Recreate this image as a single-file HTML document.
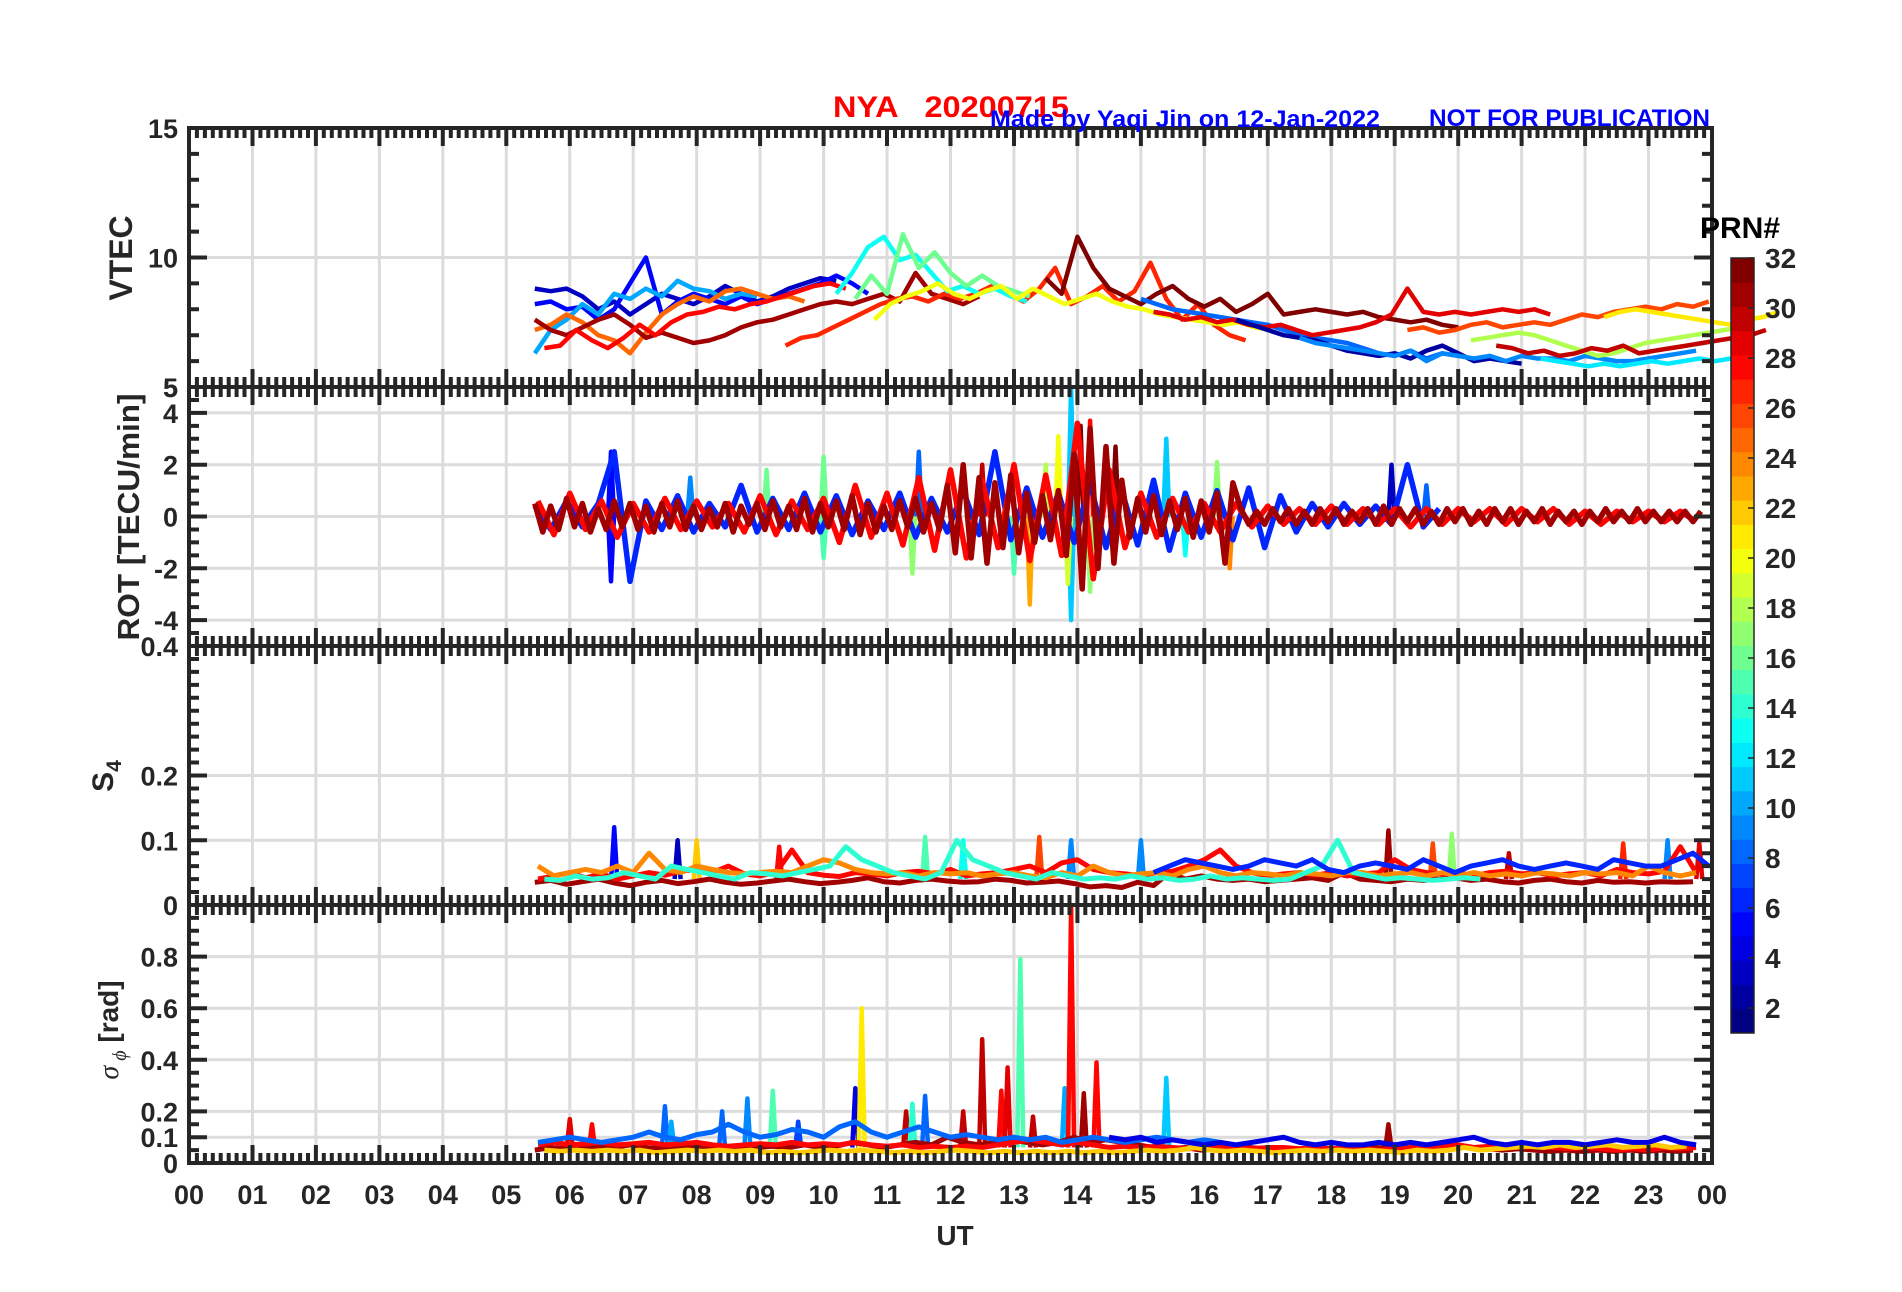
<!DOCTYPE html>
<html><head><meta charset="utf-8"><title>NYA 20200715</title>
<style>
html,body{margin:0;padding:0;background:#fff;}
svg{display:block;font-family:"Liberation Sans",Arial,sans-serif;}
</style></head>
<body>
<svg id="chart" width="1902" height="1292" viewBox="0 0 1902 1292" xmlns="http://www.w3.org/2000/svg">
<rect x="0" y="0" width="1902" height="1292" fill="#fff"/>
<g id="grid"></g>
<g id="series"></g>
<g id="axes"></g>
<g id="cbar"></g>
<text x="833" y="117" font-size="30" font-weight="bold" fill="#ff0000" textLength="236" lengthAdjust="spacingAndGlyphs" xml:space="preserve">NYA   20200715</text>
<text x="990" y="127" font-size="24" font-weight="bold" fill="#0000ff" textLength="390" lengthAdjust="spacingAndGlyphs">Made by Yaqi Jin on 12-Jan-2022</text>
<text x="1429" y="126" font-size="24" font-weight="bold" fill="#0000ff" textLength="281" lengthAdjust="spacingAndGlyphs">NOT FOR PUBLICATION</text>
<text transform="translate(132,258) rotate(-90)" text-anchor="middle" font-size="32" font-weight="bold" fill="#262626">VTEC</text>
<text transform="translate(139,517) rotate(-90)" text-anchor="middle" font-size="31" font-weight="bold" fill="#262626" textLength="247" lengthAdjust="spacingAndGlyphs">ROT [TECU/min]</text>
<text transform="translate(113,776) rotate(-90)" text-anchor="middle" font-size="30" font-weight="bold" fill="#262626">S<tspan font-size="21" dy="8">4</tspan></text>
<text transform="translate(118,1030) rotate(-90)" text-anchor="middle" font-size="28" font-weight="bold" fill="#262626"><tspan font-family="Liberation Serif,serif" font-style="italic" font-weight="normal">σ</tspan><tspan font-family="Liberation Serif,serif" font-style="italic" font-weight="normal" font-size="20" dy="8"> ϕ</tspan><tspan dy="-8"> [rad]</tspan></text>
<text x="955" y="1245" text-anchor="middle" font-size="28" font-weight="bold" fill="#262626">UT</text>
<text x="1700" y="238" font-size="30" font-weight="bold" fill="#000">PRN#</text>
</svg>
<script>
// ---------- data ----------
const hourTicks = ["00","01","02","03","04","05","06","07","08","09","10","11","12","13","14","15","16","17","18","19","20","21","22","23","00"];
const vtecTicks = [15,10,5];
const rotTicks = [5,4,2,0,-2,-4];
const s4Ticks = [0.4,0.2,0.1,0];
const sigTicks = [0.8,0.6,0.4,0.2,0.1,0];
const cbarTicks = [32,30,28,26,24,22,20,18,16,14,12,10,8,6,4,2];

const vtecMeta = [[3,5.45,0.25],[5,5.45,0.25],[10,5.45,0.25],[25,5.45,0.25],[31,5.45,0.25],[28,5.6,0.25],[27,9.4,0.25],[13,10.2,0.25],[16,10.5,0.25],[20,10.8,0.25],[32,13.5,0.25],[8,15.0,0.25],[29,15.2,0.25],[2,16.5,0.25],[9,17.5,0.25],[18,20.2,0.25],[26,19.2,0.25],[30,20.6,0.25],[12,21.3,0.25],[21,22.3,0.25]];
const vtec3 = [8.8,8.7,8.8,8.5,8.0,8.3,7.8,8.2,8.6,8.4,8.2,8.5,8.9,8.6,8.3,8.5,8.8,9.0,9.2,9.1];
const vtec5 = [8.2,8.3,8.0,8.1,7.6,8.0,9.0,10.0,7.8,8.3,8.6,8.4,8.2,8.5,8.2,8.4,8.6,8.8,9.0,9.3,9.0,8.6];
const vtec10 = [6.3,7.2,7.6,8.2,7.8,8.6,8.4,8.8,8.5,9.1,8.8,8.7,8.4,8.6,8.5];
const vtec25 = [7.2,7.4,7.8,7.5,7.0,6.8,6.3,7.1,7.8,8.2,8.5,8.3,8.7,8.8,8.6,8.4,8.5,8.3];
const vtec31 = [7.6,7.2,7.0,7.3,7.6,7.8,7.4,6.9,7.1,6.9,6.7,6.8,7.0,7.3,7.5,7.6,7.8,8.0,8.2,8.3,8.2,8.4,8.6,8.3,9.4,8.6,8.4,8.2,8.5];
const vtec28 = [6.5,6.6,7.2,6.8,6.5,6.9,7.4,7.0,7.5,7.8,7.9,8.1,8.0,8.2,8.3,8.5,8.7,8.9,9.0,8.8];
const vtec27 = [6.6,6.9,7.0,7.3,7.6,7.9,8.2,8.4,8.5,8.3,8.6,8.4,8.6,8.9,8.6,8.3,8.8,9.6,8.2,8.5,8.9,8.3,8.7,9.8,8.4,7.6,8.2,7.4,7.0,6.8];
const vtec13 = [8.6,9.4,10.4,10.8,9.9,10.1,9.4,8.7,8.9,8.6,8.8,8.5,8.3];
const vtec16 = [8.4,9.3,8.6,10.9,9.6,10.2,9.4,8.9,9.3,8.9,8.7,8.5];
const vtec20 = [7.6,8.2,8.5,8.7,9.0,8.6,8.4,8.7,8.9,8.4,8.8,8.5,8.2,8.4,8.6,8.3,8.1,8.0,7.8,7.7,7.6,7.5,7.4,7.5,7.3,7.2];
const vtec32 = [9.2,8.6,10.8,9.6,8.8,8.5,8.2,8.6,8.9,8.4,8.1,8.4,7.9,8.2,8.6,7.8,7.9,8.0,7.9,7.8,7.9,7.7,7.6,7.5,7.6,7.4,7.3];
const vtec8 = [8.4,8.2,8.0,7.9,7.8,7.7,7.6,7.5,7.4,7.2,7.0,6.9,6.8,6.7,6.5,6.3,6.2,6.4,6.1,6.3,6.2];
const vtec29 = [7.9,7.8,7.6,7.7,7.5,7.6,7.4,7.3,7.4,7.2,7.0,7.1,7.2,7.3,7.5,7.8,8.8,7.9,7.8,7.9,7.8,7.9,8.0,7.9,8.0,7.8];
const vtec2 = [7.6,7.4,7.2,7.0,6.9,6.8,6.6,6.4,6.3,6.2,6.3,6.1,6.4,6.6,6.3,6.0,6.1,6.0,5.9];
const vtec9 = [6.9,6.7,6.6,6.5,6.4,6.3,6.2,6.4,6.0,6.3,6.2,6.1,6.2,6.0,6.2,6.1,6.1,6.0,6.2,6.1,6.0,6.0,6.1,6.2,6.3,6.4];
const vtec18 = [6.8,6.9,7.0,7.1,7.0,6.8,6.6,6.4,6.2,6.3,6.5,6.7,6.8,6.9,7.0,7.1,7.2,7.3];
const vtec26 = [7.2,7.3,7.1,7.2,7.4,7.5,7.3,7.4,7.5,7.4,7.6,7.8,7.7,7.9,8.0,8.1,8.0,8.2,8.1,8.3];
const vtec30 = [6.6,6.5,6.3,6.4,6.2,6.3,6.5,6.4,6.6,6.3,6.4,6.5,6.6,6.7,6.8,6.9,7.0,7.2];
const vtec12 = [6.1,6.0,5.9,5.8,5.9,5.8,5.9,6.0,5.9,6.0,6.1,6.0,6.1,6.2];
const vtec21 = [7.7,7.9,8.0,7.9,7.8,7.7,7.6,7.5,7.4,7.6,7.7,7.9];
const vtecSeries = [vtec3,vtec5,vtec10,vtec25,vtec31,vtec28,vtec27,vtec13,vtec16,vtec20,vtec32,vtec8,vtec29,vtec2,vtec9,vtec18,vtec26,vtec30,vtec12,vtec21];

const rotMeta = [[6,5.45,0.25],[28,5.5,0.25],[31,5.45,0.125]];
const rot6 = [0.4,-0.5,0.6,-0.4,0.5,2.5,-2.5,0.6,-0.5,0.8,-0.6,0.5,-0.4,1.2,-0.6,0.7,-0.5,0.9,-0.6,0.8,-0.7,0.6,-0.5,0.9,-0.8,0.7,-0.6,1.0,-0.7,2.5,-0.9,1.1,-0.8,0.9,-1.0,1.3,-1.2,1.0,-1.1,1.4,-1.3,0.9,-0.8,1.0,-0.9,1.1,-1.2,0.8,-0.6,0.5,-0.4,0.5,-0.3,0.4,-0.3,2.0,-0.4,0.3];
const rot28 = [0.6,-0.7,0.9,-0.5,0.6,-0.8,0.5,-0.6,0.7,-0.5,0.6,-0.4,0.5,-0.6,0.8,-0.7,0.6,-0.5,0.7,-1.0,1.2,-0.8,0.9,-1.1,1.5,-1.3,1.8,-1.6,1.4,-1.2,2.0,-1.7,1.6,-1.5,3.6,-2.4,1.8,-1.2,0.9,-0.8,0.7,-0.6,0.5,-0.6,0.5,-0.4,0.4,-0.3,0.3,-0.3,0.4,-0.3,0.3,-0.3,0.3,-0.4,0.3,-0.3,0.3,-0.2,0.3,-0.3,0.3,-0.2,0.3,-0.3,0.2,-0.3,0.2,-0.2,0.2,-0.2,0.2,-0.2];
const rot31 = [0.5,-0.6,0.4,-0.5,0.7,-0.4,0.5,-0.6,0.3,-0.5,0.6,-0.4,0.5,-0.5,0.4,-0.6,0.5,-0.4,0.6,-0.5,0.4,-0.5,0.3,-0.4,0.5,-0.6,0.4,-0.3,0.5,-0.5,0.6,-0.4,0.4,-0.5,0.7,-0.6,0.5,-0.4,0.6,-0.5,0.8,-0.7,0.5,-0.6,0.4,-0.5,0.6,-0.4,0.7,-0.6,0.5,-0.5,
 1.2,-1.4,2.0,-1.6,1.5,-1.8,1.3,-1.2,1.6,-1.4,
 0.9,-1.0,0.8,-0.9,1.0,
 -1.5,2.4,-2.8,3.4,-2.0,2.7,-1.8,1.4,
 -0.8,0.7,-0.6,0.8,-0.7,0.6,-0.5,0.7,-0.8,0.6,-0.6,0.9,-1.8,1.3,
 0.3,-0.3,0.2,-0.3,0.3,-0.2,0.3,-0.3,0.2,-0.3,0.3,-0.2,0.3,-0.3,0.2,-0.2,0.3,-0.3,0.4,-0.3,0.3,-0.2,0.3,-0.3,0.2,-0.3,0.3,-0.2,0.3,-0.3,0.2,-0.3,0.3,-0.2,0.3,-0.3,0.2,-0.2,0.3,-0.3,0.2,-0.2,0.2,-0.3,0.2,-0.2,0.3,-0.2,0.2,-0.2,0.3,-0.2,0.2,-0.2,0.2,-0.2,0.2,-0.2,0.2];
const rotSeries = [rot6,rot28,rot31];
const rotSpikeHour = [6.65,6.65,7.9,9.1,10.0,10.0,11.5,11.4,12.5,13.0,13.25,13.5,13.9,13.9,13.7,13.85,14.05,14.2,14.2,14.6,15.4,15.7,16.2,16.4,18.95,19.5];
const rotSpikeVal = [2.5,-2.5,1.5,1.8,2.3,-1.6,2.5,-2.2,2.0,-2.2,-3.4,2.0,5.0,-4.0,3.1,-2.6,3.5,3.7,-2.9,2.7,3.0,-1.5,2.1,-2.0,2.0,1.2];
const rotSpikePrn = [5,5,9,16,16,15,8,17,30,15,23,18,11,11,20,19,32,28,17,32,11,13,17,24,3,8];

const s4Meta = [[31,5.45,0.25],[28,5.5,0.25],[24,5.5,0.25],[14,5.6,0.25],[6,15.2,0.25]];
const s431 = [0.035,0.038,0.032,0.036,0.04,0.034,0.03,0.035,0.038,0.033,0.036,0.04,0.035,0.032,0.034,0.037,0.04,0.036,0.033,0.035,0.038,0.042,0.036,0.034,0.038,0.04,0.037,0.035,0.036,0.04,0.038,0.034,0.035,0.037,0.033,0.028,0.03,0.027,0.035,0.03,0.05,0.04,0.045,0.04,0.038,0.04,0.036,0.038,0.04,0.042,0.038,0.05,0.04,0.038,0.036,0.04,0.038,0.04,0.042,0.038,0.04,0.036,0.034,0.038,0.04,0.036,0.034,0.038,0.035,0.036,0.034,0.036,0.035,0.036];
const s428 = [0.04,0.045,0.05,0.042,0.048,0.04,0.045,0.05,0.046,0.052,0.055,0.05,0.06,0.048,0.045,0.05,0.085,0.05,0.046,0.044,0.05,0.048,0.045,0.05,0.052,0.048,0.055,0.045,0.048,0.05,0.055,0.06,0.05,0.065,0.07,0.055,0.05,0.048,0.045,0.05,0.052,0.06,0.07,0.085,0.06,0.05,0.045,0.048,0.05,0.046,0.05,0.045,0.048,0.05,0.07,0.055,0.05,0.048,0.05,0.045,0.05,0.052,0.048,0.05,0.045,0.048,0.05,0.045,0.055,0.05,0.048,0.052,0.09,0.05];
const s424 = [0.06,0.045,0.05,0.055,0.05,0.06,0.05,0.08,0.055,0.05,0.06,0.055,0.05,0.048,0.05,0.052,0.05,0.06,0.07,0.065,0.055,0.05,0.048,0.05,0.045,0.05,0.048,0.05,0.045,0.048,0.05,0.045,0.042,0.05,0.045,0.06,0.05,0.045,0.048,0.05,0.045,0.055,0.06,0.05,0.045,0.05,0.048,0.045,0.05,0.048,0.045,0.05,0.05,0.045,0.048,0.05,0.045,0.05,0.045,0.05,0.045,0.048,0.045,0.05,0.048,0.045,0.05,0.048,0.05,0.045,0.06,0.05,0.045,0.05];
const s414 = [0.04,0.038,0.045,0.04,0.042,0.05,0.045,0.04,0.06,0.055,0.05,0.045,0.04,0.05,0.048,0.045,0.05,0.055,0.06,0.09,0.07,0.06,0.05,0.045,0.04,0.05,0.1,0.07,0.06,0.05,0.045,0.04,0.05,0.045,0.04,0.042,0.04,0.045,0.04,0.042,0.038,0.04,0.045,0.04,0.042,0.04,0.038,0.04,0.05,0.06,0.1,0.05,0.045,0.04,0.042,0.04,0.038,0.04,0.042,0.04];
const s46 = [0.05,0.06,0.07,0.065,0.06,0.055,0.06,0.07,0.065,0.06,0.07,0.055,0.05,0.06,0.065,0.06,0.055,0.07,0.06,0.05,0.06,0.065,0.07,0.06,0.055,0.06,0.065,0.06,0.055,0.07,0.065,0.06,0.06,0.07,0.08,0.06];
const s4Series = [s431,s428,s424,s414,s46];
const s4SpikeHour = [6.7,7.7,8.0,9.3,11.6,12.2,13.4,13.9,15.0,18.9,19.6,19.9,20.8,22.6,23.3,23.8];
const s4SpikeVal = [0.12,0.1,0.1,0.09,0.105,0.1,0.105,0.1,0.1,0.115,0.095,0.11,0.08,0.095,0.1,0.095];
const s4SpikePrn = [5,3,22,28,15,13,26,9,9,31,26,17,30,27,9,29];

const sigMeta = [[31,5.45,0.25],[28,5.5,0.25],[22,5.6,0.25],[8,5.5,0.25],[4,14.5,0.25]];
const sig31 = [0.05,0.06,0.055,0.06,0.065,0.06,0.07,0.06,0.055,0.06,0.065,0.06,0.055,0.06,0.06,0.065,0.06,0.07,0.06,0.065,0.08,0.07,0.06,0.07,0.08,0.07,0.1,0.08,0.07,0.08,0.09,0.08,0.07,0.08,0.1,0.08,0.09,0.08,0.07,0.06,0.055,0.06,0.05,0.055,0.05,0.06,0.055,0.06,0.05,0.055,0.05,0.06,0.055,0.06,0.055,0.05,0.055,0.06,0.07,0.06,0.055,0.05,0.055,0.05,0.045,0.05,0.045,0.05,0.045,0.05,0.045,0.05,0.045,0.05];
const sig28 = [0.07,0.08,0.07,0.075,0.08,0.07,0.075,0.08,0.07,0.075,0.08,0.07,0.065,0.07,0.075,0.07,0.08,0.07,0.075,0.07,0.08,0.07,0.065,0.07,0.06,0.065,0.06,0.065,0.06,0.07,0.08,0.09,0.08,0.07,0.08,0.07,0.06,0.065,0.06,0.065,0.06,0.055,0.06,0.065,0.06,0.055,0.06,0.06,0.055,0.06,0.055,0.06,0.055,0.05,0.055,0.06,0.065,0.06,0.07,0.06,0.065,0.07,0.06,0.065,0.06,0.055,0.06,0.055,0.05,0.055,0.05,0.06,0.055,0.06];
const sig22 = [0.05,0.045,0.05,0.045,0.05,0.045,0.05,0.04,0.045,0.05,0.045,0.05,0.045,0.05,0.04,0.045,0.04,0.045,0.05,0.045,0.05,0.045,0.04,0.045,0.04,0.045,0.05,0.045,0.04,0.045,0.04,0.045,0.04,0.045,0.04,0.045,0.04,0.045,0.05,0.045,0.05,0.06,0.05,0.045,0.05,0.045,0.04,0.045,0.05,0.045,0.05,0.045,0.05,0.045,0.04,0.05,0.045,0.05,0.06,0.05,0.055,0.06,0.065,0.06,0.07,0.06,0.065,0.07,0.06,0.065,0.07,0.06,0.065];
const sig8 = [0.08,0.09,0.1,0.09,0.08,0.09,0.1,0.12,0.1,0.09,0.11,0.12,0.15,0.12,0.1,0.11,0.13,0.12,0.1,0.14,0.16,0.12,0.1,0.12,0.14,0.12,0.1,0.11,0.1,0.09,0.1,0.09,0.1,0.08,0.09,0.1,0.09,0.08,0.09,0.1,0.09,0.08,0.09,0.08];
const sig4 = [0.1,0.09,0.1,0.08,0.09,0.08,0.07,0.08,0.07,0.08,0.09,0.1,0.08,0.07,0.08,0.07,0.07,0.08,0.07,0.08,0.07,0.08,0.09,0.1,0.08,0.07,0.08,0.07,0.08,0.08,0.07,0.08,0.09,0.08,0.08,0.1,0.08,0.07];
const sigSeries = [sig31,sig28,sig22,sig8,sig4];
const sigSpikeHour = [6.0,6.35,7.5,7.6,8.4,8.8,9.2,9.6,10.5,10.6,11.3,11.4,11.6,12.2,12.5,12.8,12.9,13.1,13.3,13.8,13.9,14.1,14.3,15.4,18.9];
const sigSpikeVal = [0.17,0.15,0.22,0.16,0.2,0.25,0.28,0.16,0.29,0.6,0.2,0.23,0.26,0.2,0.48,0.28,0.37,0.79,0.18,0.29,1.0,0.27,0.39,0.33,0.15];
const sigSpikePrn = [29,28,8,10,8,9,15,7,4,21,30,14,8,30,30,28,29,15,30,10,28,31,28,11,31];

// ---------- geometry ----------
const X0 = 189, X1 = 1712;
const panels = [
  {top:128, bot:387, min:5, max:15},
  {top:387, bot:646, min:-5, max:5},
  {top:646, bot:905, min:0, max:0.4},
  {top:905, bot:1163, min:0, max:1}
];
const xOf = h => X0 + (X1 - X0) * h / 24;
const yOf = (p, v) => { const P = panels[p]; const c = Math.max(P.min, Math.min(P.max, v)); return P.bot - (c - P.min) / (P.max - P.min) * (P.bot - P.top); };
function jet(prn) {
  const f = (prn - 1) / 31;
  const cl = v => Math.max(0, Math.min(1, v));
  const r = cl(1.5 - Math.abs(4 * f - 3)), g = cl(1.5 - Math.abs(4 * f - 2)), b = cl(1.5 - Math.abs(4 * f - 1));
  return `rgb(${Math.round(r * 255)},${Math.round(g * 255)},${Math.round(b * 255)})`;
}
const NS = "http://www.w3.org/2000/svg";
function mk(tag, attrs, parent) {
  const e = document.createElementNS(NS, tag);
  for (const k in attrs) e.setAttribute(k, attrs[k]);
  parent.appendChild(e);
  return e;
}
const gGrid = document.getElementById('grid');
const gSer = document.getElementById('series');
const gAx = document.getElementById('axes');
const gCb = document.getElementById('cbar');
const tickSets = [vtecTicks, rotTicks, s4Ticks, sigTicks];
const minorSteps = [1, 0.5, 0.02, 0.05];

panels.forEach((P, p) => {
  for (let h = 1; h < 24; h++) {
    const l = mk('line', {x1: xOf(h), x2: xOf(h), y1: P.top, y2: P.bot, stroke: '#dcdcdc', 'stroke-width': 3}, gGrid);
    
    
  }
  tickSets[p].forEach(v => {
    if (v === P.min || v === P.max) return;
    const l = mk('line', {x1: X0, x2: X1, y1: yOf(p, v), y2: yOf(p, v), stroke: '#dcdcdc', 'stroke-width': 3}, gGrid);
    
    
  });
});

function drawLine(p, meta, vals, name, width) {
  const pts = vals.map((v, i) => `${xOf(meta[1] + i * meta[2]).toFixed(1)},${yOf(p, v).toFixed(1)}`).join(' ');
  const pl = mk('polyline', {points: pts, fill: 'none', stroke: jet(meta[0]), 'stroke-width': width, 'stroke-linejoin': 'round'}, gSer);
  
  
}
function drawSpikes(p, hours, vals, prns, base, name) {
  hours.forEach((h, i) => {
    const x = xOf(h);
    const d = `M${(x - 3).toFixed(1)},${yOf(p, base).toFixed(1)} L${x.toFixed(1)},${yOf(p, vals[i]).toFixed(1)} L${(x + 3).toFixed(1)},${yOf(p, base).toFixed(1)}`;
    const s = mk('path', {d: d, fill: 'none', stroke: jet(prns[i]), 'stroke-width': 4.5, 'stroke-linejoin': 'round'}, gSer);
    
    
  });
}
vtecSeries.forEach((vals, i) => drawLine(0, vtecMeta[i], vals, 'vtec-trace-prn' + vtecMeta[i][0], 4.5));
drawSpikes(1, rotSpikeHour, rotSpikeVal, rotSpikePrn, 0, 'rot-spike');
rotSeries.forEach((vals, i) => drawLine(1, rotMeta[i], vals, 'rot-trace-prn' + rotMeta[i][0], 5.5));
drawSpikes(2, s4SpikeHour, s4SpikeVal, s4SpikePrn, 0.04, 's4-spike');
s4Series.forEach((vals, i) => drawLine(2, s4Meta[i], vals, 's4-trace-prn' + s4Meta[i][0], 5));
drawSpikes(3, sigSpikeHour, sigSpikeVal, sigSpikePrn, 0.06, 'sigma-phi-spike');
sigSeries.forEach((vals, i) => drawLine(3, sigMeta[i], vals, 'sigma-phi-trace-prn' + sigMeta[i][0], 5));

const AX = '#262626';
panels.forEach((P, p) => {
  const box = mk('rect', {x: X0, y: P.top, width: X1 - X0, height: P.bot - P.top, fill: 'none', stroke: AX, 'stroke-width': 4}, gAx);
  
  
  let d = '';
  for (let k = 0; k <= 24 * 8; k++) {
    const x = xOf(k / 8);
    const L = (k % 8 === 0) ? 18 : 10;
    d += `M${x.toFixed(1)},${P.top}v${L}M${x.toFixed(1)},${P.bot}v${-L}`;
  }
  const st = minorSteps[p];
  const n = Math.round((P.max - P.min) / st);
  for (let k = 0; k <= n; k++) {
    const v = P.min + k * st;
    const y = yOf(p, v);
    const major = tickSets[p].some(t => Math.abs(t - v) < 1e-9);
    const L = major ? 18 : 10;
    d += `M${X0},${y.toFixed(1)}h${L}M${X1},${y.toFixed(1)}h${-L}`;
  }
  const tk = mk('path', {d: d, stroke: AX, 'stroke-width': 4, fill: 'none'}, gAx);
  
  
  tickSets[p].forEach(v => {
    const t = mk('text', {x: 178, y: yOf(p, v) + 10, 'text-anchor': 'end', 'font-size': 27, 'font-weight': 'bold', fill: AX}, gAx);
    t.textContent = String(v);
    
    
  });
});
hourTicks.forEach((lab, i) => {
  const t = mk('text', {x: xOf(i), y: 1204, 'text-anchor': 'middle', 'font-size': 27, 'font-weight': 'bold', fill: AX}, gAx);
  t.textContent = lab;
  
  
});

const CB = {x: 1731, w: 23, top: 258, bot: 1033, min: 1, max: 32};
const cbY = v => CB.bot - (v - CB.min) / (CB.max - CB.min) * (CB.bot - CB.top);
for (let k = 1; k <= 32; k++) {
  const y0 = CB.bot - (k - 1) * (CB.bot - CB.top) / 32;
  const y1 = CB.bot - k * (CB.bot - CB.top) / 32;
  const r = mk('rect', {x: CB.x, y: y1, width: CB.w, height: y0 - y1 + 0.5, fill: jet(k)}, gCb);
  
  
}
const cbf = mk('rect', {x: CB.x, y: CB.top, width: CB.w, height: CB.bot - CB.top, fill: 'none', stroke: AX, 'stroke-width': 1.5}, gCb);


cbarTicks.forEach(v => {
  const y = cbY(v);
  const l = mk('line', {x1: CB.x + CB.w - 6, x2: CB.x + CB.w, y1: y, y2: y, stroke: AX, 'stroke-width': 1.5}, gCb);
  
  
  const t = mk('text', {x: 1765, y: y + 10, 'font-size': 28, 'font-weight': 'bold', fill: AX}, gCb);
  t.textContent = String(v);
  
  
});
</script>
</body></html>
